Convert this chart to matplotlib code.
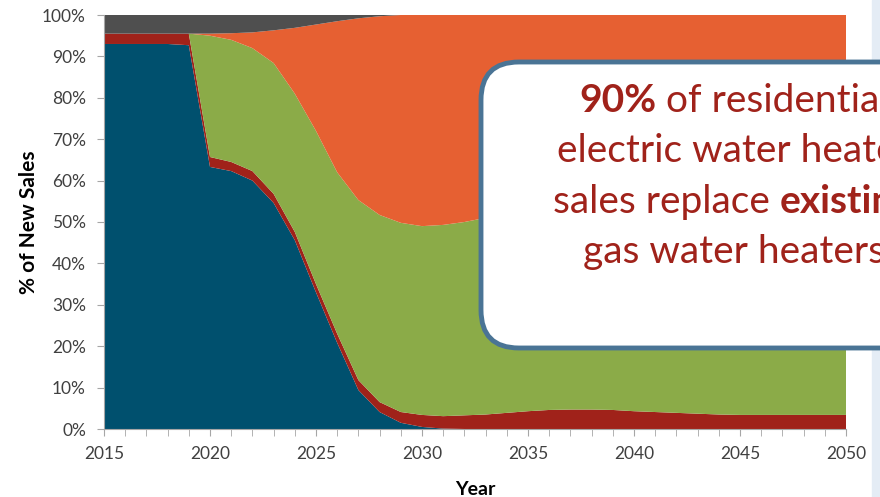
import matplotlib.pyplot as plt
from matplotlib.patches import FancyBboxPatch, Rectangle
from matplotlib.ticker import MultipleLocator, FuncFormatter

plt.rcParams['font.family'] = ['Lato', 'DejaVu Sans']

years = list(range(2015, 2051))

# share of new sales (%) per layer, bottom to top
navy = [93, 93, 93, 93, 92.7, 63.3, 62.3, 60.0, 54.6, 45.6, 33.0, 20.8, 9.4, 4.1, 1.5, 0.5, 0.1,
        0, 0, 0, 0, 0, 0, 0, 0, 0, 0, 0, 0, 0, 0, 0, 0, 0, 0, 0]
red = [2.5, 2.5, 2.5, 2.5, 2.8, 2.4, 2.2, 2.3, 2.2, 2.0, 2.0, 2.2, 2.4, 2.4, 2.6, 2.9, 3.0,
       3.3, 3.5, 3.9, 4.3, 4.6, 4.7, 4.7, 4.6, 4.3, 4.1, 3.9, 3.7, 3.5, 3.4, 3.4, 3.4, 3.4, 3.4, 3.4]
green = [0, 0, 0, 0, 0, 29.3, 29.5, 29.7, 31.6, 33.4, 37.0, 39.0, 43.5, 45.2, 45.7, 45.6, 46.2,
         46.7, 47.5, 48.1, 48.7, 49.4, 50.3, 50.3, 50.4, 50.7, 50.9, 51.1, 51.3, 51.5, 51.6,
         51.6, 51.6, 51.6, 51.6, 51.6]
orange = [0, 0, 0, 0, 0, 0.5, 1.6, 3.8, 7.9, 15.9, 25.7, 36.5, 43.9, 48.0, 50.2, 51.0, 50.7,
          50.0, 49.0, 48.0, 47.0, 46.0, 45.0, 45.0, 45.0, 45.0, 45.0, 45.0, 45.0, 45.0, 45.0,
          45.0, 45.0, 45.0, 45.0, 45.0]
gray = [4.5, 4.5, 4.5, 4.5, 4.5, 4.5, 4.4, 4.2, 3.7, 3.1, 2.3, 1.5, 0.8, 0.3, 0, 0, 0,
        0, 0, 0, 0, 0, 0, 0, 0, 0, 0, 0, 0, 0, 0, 0, 0, 0, 0, 0]

colors = ['#00506E', '#A0221A', '#8BAB48', '#E66032', '#4F4F4F']

fig = plt.figure(figsize=(8.8, 4.97), dpi=100)
fig.patches.append(Rectangle((872 / 880, 0), 8 / 880, 1, transform=fig.transFigure,
                             color='#E4ECF5', zorder=0))

ax = fig.add_axes([104 / 880, 1 - 429 / 497, 742 / 880, 414 / 497])
ax.stackplot(years, navy, red, green, orange, gray, colors=colors, linewidth=0)
ax.set_xlim(2015, 2050)
ax.set_ylim(0, 100)

ax.xaxis.set_major_locator(MultipleLocator(5))
ax.xaxis.set_minor_locator(MultipleLocator(1))
ax.yaxis.set_major_locator(MultipleLocator(10))
ax.yaxis.set_major_formatter(FuncFormatter(lambda v, p: f'{v:.0f}%'))
ax.tick_params(axis='both', which='both', direction='out', color='#A6A6A6', labelcolor='#404040',
               labelsize=12.5)
ax.tick_params(axis='x', which='minor', length=5)
ax.tick_params(axis='x', which='major', length=5, pad=7)
ax.tick_params(axis='y', length=5, pad=8)
for s in ['top', 'right']:
    ax.spines[s].set_visible(False)
for s in ['left', 'bottom']:
    ax.spines[s].set_color('#A6A6A6')

ax.set_xlabel('Year', fontsize=14, fontweight='bold', labelpad=14)
ax.set_ylabel('% of New Sales', fontsize=15, fontweight='bold', labelpad=2)

# call-out box, partly off the right edge
box = FancyBboxPatch((4.81, 1.49), 6.0, 2.86, boxstyle='round,pad=0,rounding_size=0.38',
                     transform=fig.dpi_scale_trans, facecolor='white', edgecolor='#4A7495',
                     linewidth=3.5, zorder=5)
fig.patches.append(box)

red_txt = '#A0221A'
size = 28
rend = fig.canvas.get_renderer()


def width_of(s, bold):
    t = fig.text(0, 0, s, fontsize=size, fontweight='bold' if bold else 'normal')
    w = t.get_window_extent(rend).width / fig.dpi
    t.remove()
    return w


space = width_of('x x', False) - width_of('xx', False)

lines = [
    [('90%', True), ('of residential', False)],
    [('electric water heater', False)],
    [('sales replace', False), ('existing', True)],
    [('gas water heaters', False)],
]
baselines = [3.85, 3.35, 2.84, 2.34]

for parts, yb in zip(lines, baselines):
    widths = [width_of(s, b) for s, b in parts]
    total = sum(widths) + space * (len(parts) - 1)
    x = 7.34 - total / 2
    for (s, b), w in zip(parts, widths):
        fig.text(x, yb, s, transform=fig.dpi_scale_trans, fontsize=size, color=red_txt,
                 fontweight='bold' if b else 'normal', va='baseline', zorder=6)
        x += w + space

fig.savefig('out.png', dpi=100)
